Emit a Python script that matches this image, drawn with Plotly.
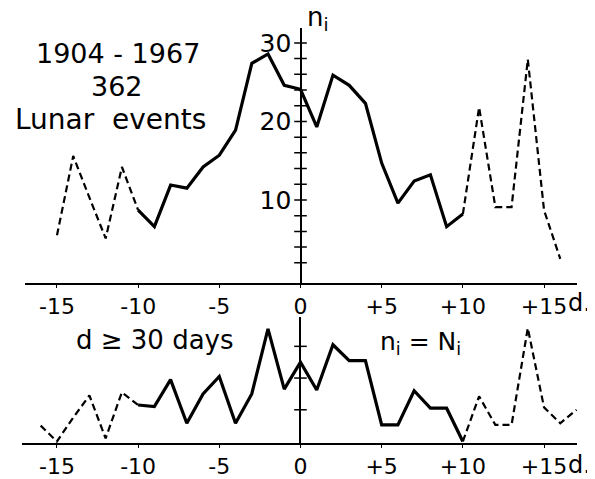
import plotly.graph_objects as go

# ---------------- data ----------------
days_top = list(range(-15, 17))
n_top = [5.5, 15.6, 10.3, 5.1, 14.2, 8.7, 6.6, 11.9, 11.5, 14.2, 15.7, 18.9, 27.4, 28.6, 24.6, 24.1,
         19.3, 25.9, 24.6, 22.3, 14.7, 9.6, 12.4, 13.2, 6.6, 8.2, 21.8, 9.1, 9.1, 27.9, 8.7, 2.5]

days_bot = list(range(-16, 18))
n_bot = [1.0, 0.0, 1.5, 2.9, 0.2, 3.1, 2.3, 2.2, 3.9, 1.15, 3.0, 4.1, 1.15, 3.0, 7.1, 3.3, 5.0,
         3.25, 6.1, 5.1, 5.1, 1.05, 1.05, 3.2, 2.1, 2.1, 0.0, 2.85, 1.05, 1.05, 7.15, 2.15, 1.15, 2.0]

solid_from, solid_to = -10, 10

x_tickvals = [-15, -10, -5, 0, 5, 10, 15]
x_ticktext = ["-15", "-10", "-5", "0", "+5", "+10", "+15"]
y_top_ticklabels = [10, 20, 30]
y_top_minor = list(range(2, 31, 2))
y_bot_minor = [2, 4, 6]

FONT = "DejaVu Sans"
W, H = 595, 479
OFF = 8  # page body margin in the browser


def px(x):
    return (x - OFF) / W


def py(y):
    return 1 - (y - OFF) / H


def split(days, vals):
    left = [(d, v) for d, v in zip(days, vals) if d <= solid_from]
    mid = [(d, v) for d, v in zip(days, vals) if solid_from <= d <= solid_to]
    right = [(d, v) for d, v in zip(days, vals) if d >= solid_to]
    return left, mid, right


fig = go.Figure()

for (days, vals, xa, ya) in [(days_top, n_top, "x", "y"), (days_bot, n_bot, "x2", "y2")]:
    left, mid, right = split(days, vals)
    for seg, style in [(left, "dash"), (mid, "solid"), (right, "dash")]:
        fig.add_trace(go.Scatter(
            x=[p[0] for p in seg], y=[p[1] for p in seg], mode="lines",
            line=dict(color="black", width=3.2 if style == "solid" else 2.2,
                      dash="solid" if style == "solid" else "7px,4px"),
            xaxis=xa, yaxis=ya, showlegend=False, hoverinfo="skip"))

# crossing tick marks on the vertical axes
fig.add_trace(go.Scatter(x=[0] * len(y_top_minor), y=y_top_minor, mode="markers",
                         marker=dict(symbol="line-ew", size=9, line=dict(color="black", width=1.5)),
                         xaxis="x", yaxis="y", showlegend=False, hoverinfo="skip"))
fig.add_trace(go.Scatter(x=[0] * len(y_bot_minor), y=y_bot_minor, mode="markers",
                         marker=dict(symbol="line-ew", size=9, line=dict(color="black", width=1.5)),
                         xaxis="x2", yaxis="y2", showlegend=False, hoverinfo="skip"))

xaxis_common = dict(
    showgrid=False, zeroline=True, zerolinecolor="black", zerolinewidth=2,
    showline=True, linecolor="black", linewidth=2,
    tickvals=x_tickvals, ticktext=x_ticktext, ticks="outside", ticklen=3, tickwidth=1,
    tickcolor="black", tickfont=dict(family=FONT, size=22, color="black"),
    ticklabelstandoff=0,
)

fig.update_layout(
    width=W, height=H, margin=dict(l=0, r=0, t=0, b=0),
    paper_bgcolor="white", plot_bgcolor="white",
    xaxis=dict(domain=[px(25), px(577)], range=[-16.97, 17.03], anchor="y", **xaxis_common),
    yaxis=dict(domain=[py(282.5), py(28)], range=[-0.51, 31.9], anchor="free",
               position=px(300.4), showgrid=False, zeroline=False, showline=False,
               tickvals=y_top_ticklabels, ticks="", ticklabelstandoff=9,
               tickfont=dict(family=FONT, size=25, color="black")),
    xaxis2=dict(domain=[px(22), px(577)], range=[-17.15, 17.03], anchor="y2", **xaxis_common),
    yaxis2=dict(domain=[py(443), py(317)], range=[-0.095, 7.85], anchor="free",
                position=px(300), showgrid=False, zeroline=False, showline=False,
                showticklabels=False, ticks=""),
)

annots = [
    ("1904 - 1967", 118, 53, 27),
    ("362", 117, 86, 27),
    ("Lunar  events", 110, 119, 28),
    ("n<sub>i</sub>", 318, 18, 26),
    ("d ≥ 30 days", 155, 340, 26),
    ("n<sub>i</sub> = N<sub>i</sub>", 420, 343, 25),
    ("d.", 579, 303, 24),
    ("d.", 579, 465, 24),
]
for text, x, y, s in annots:
    fig.add_annotation(text=text, x=px(x), y=py(y), xref="paper", yref="paper",
                       xanchor="center", yanchor="middle", showarrow=False,
                       font=dict(family=FONT, size=s, color="black"))

fig.write_html("out.html")
